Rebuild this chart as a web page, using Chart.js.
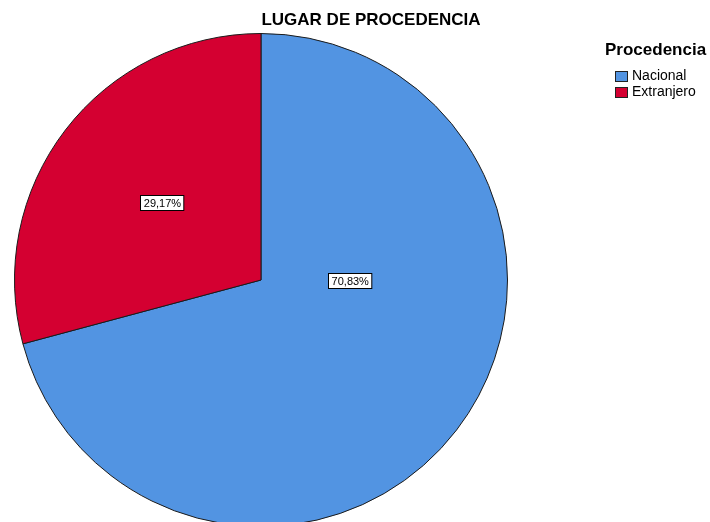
<!DOCTYPE html>
<html>
<head>
<meta charset="utf-8">
<script src="https://cdn.jsdelivr.net/npm/chart.js@4"></script>
<style>
  html, body { margin: 0; padding: 0; background: #fff; overflow: hidden; }
  #wrap { width: 710px; height: 522px; overflow: hidden; }
</style>
</head>
<body>
<div id="wrap"><canvas id="myChart" width="710" height="530"></canvas></div>
<script>
// dati del grafico
const categories = ["Nacional", "Extranjero"];
const percents = [70.83, 29.17];
const percentLabels = ["70,83%", "29,17%"];
const sliceColors = ["#5294e2", "#d40031"];
const chartTitle = "LUGAR DE PROCEDENCIA";
const legendTitle = "Procedencia";

// posizione delle etichette: angolo (gradi) e frazione del raggio
const labelSpots = [
  { angle: 0, frac: 0.36 },
  { angle: 218, frac: 0.51 },
];

// plugin per titolo, legenda e etichette in stile SPSS
const spssDecor = {
  id: "spssDecor",
  afterDraw(chart) {
    const ctx = chart.ctx;
    ctx.save();
    ctx.fillStyle = "#000";
    ctx.textBaseline = "middle";

    // titolo
    ctx.font = "bold 17px 'Liberation Sans', Arial, sans-serif";
    ctx.textAlign = "center";
    ctx.fillText(chartTitle, 371, 20);

    // legenda
    ctx.textAlign = "left";
    ctx.fillText(legendTitle, 605, 50);
    ctx.font = "14px 'Liberation Sans', Arial, sans-serif";
    categories.forEach((cat, i) => {
      const y = 71 + i * 16;
      ctx.fillStyle = sliceColors[i];
      ctx.fillRect(615.5, y + 0.5, 12, 10);
      ctx.strokeStyle = "#222";
      ctx.lineWidth = 1;
      ctx.strokeRect(615.5, y + 0.5, 12, 10);
      ctx.fillStyle = "#000";
      ctx.fillText(cat, 632, y + 5.5);
    });

    // etichette percentuali
    const arc = chart.getDatasetMeta(0).data[0];
    const cx = arc.x, cy = arc.y, r = arc.outerRadius;
    ctx.font = "11px 'Liberation Sans', Arial, sans-serif";
    ctx.textAlign = "center";
    percentLabels.forEach((txt, i) => {
      const a = (labelSpots[i].angle * Math.PI) / 180;
      const x = cx + Math.cos(a) * r * labelSpots[i].frac;
      const y = cy + Math.sin(a) * r * labelSpots[i].frac;
      const w = ctx.measureText(txt).width + 6;
      const h = 15;
      const bx = Math.round(x - w / 2) + 0.5;
      const by = Math.round(y - h / 2) + 0.5;
      ctx.fillStyle = "#fff";
      ctx.fillRect(bx, by, w, h);
      ctx.strokeStyle = "#000";
      ctx.strokeRect(bx, by, w, h);
      ctx.fillStyle = "#000";
      ctx.fillText(txt, x + 0.5, by + h / 2 + 0.5);
    });
    ctx.restore();
  },
};

const ctx = document.getElementById("myChart").getContext("2d");
const myChart = new Chart(ctx, {
  type: "pie",
  data: {
    labels: categories,
    datasets: [
      {
        data: percents,
        backgroundColor: sliceColors,
        borderColor: "#1a1a1a",
        borderWidth: 1,
      },
    ],
  },
  options: {
    responsive: false,
    animation: false,
    layout: {
      padding: { top: 33, left: 14, right: 202, bottom: 3 },
    },
    plugins: {
      legend: { display: false },
      title: { display: false },
      tooltip: { enabled: false },
    },
  },
  plugins: [spssDecor],
});
</script>
</body>
</html>
